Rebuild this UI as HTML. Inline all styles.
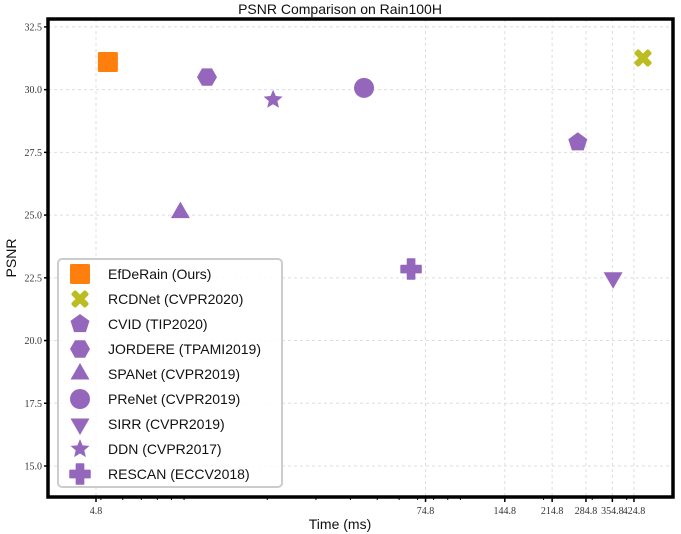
<!DOCTYPE html>
<html><head><meta charset="utf-8"><style>
body{margin:0;background:#fff;}
svg{display:block;}
.tick{font-family:"Liberation Serif",serif;font-size:10px;fill:#333;}
.lab{font-family:"Liberation Sans",sans-serif;font-size:14px;fill:#111;}
.leg{font-family:"Liberation Sans",sans-serif;font-size:14px;fill:#111;}
</style></head><body>
<svg id="chart" width="681" height="534">
<text x="340" y="14" text-anchor="middle" class="lab">PSNR Comparison on Rain100H</text>
<g id="grid"></g>
<g id="marks"></g>
<rect x="48" y="19" width="625" height="478" fill="none" stroke="#000" stroke-width="3.5"/>
<g id="axes"></g>
<text x="340" y="529" text-anchor="middle" class="lab">Time (ms)</text>
<text x="16" y="258" text-anchor="middle" class="lab" transform="rotate(-90 16 258)">PSNR</text>
<g id="legend"></g>
</svg>
<script>
const methods=["EfDeRain (Ours)","RCDNet (CVPR2020)","CVID (TIP2020)","JORDERE (TPAMI2019)","SPANet (CVPR2019)","PReNet (CVPR2019)","SIRR (CVPR2019)","DDN (CVPR2017)","RESCAN (ECCV2018)"];
const times=[5.3,458,266,12.1,9.7,44.8,357,21,66.3];
const psnr=[31.1,31.26,27.9,30.5,25.1,30.07,22.5,29.6,22.85];
const shapes=["square","x","pentagon","hexagon","triangle","circle","tridown","star","plus"];
const colors=["#ff7f0e","#bcbd22","#9467bd","#9467bd","#9467bd","#9467bd","#9467bd","#9467bd","#9467bd"];
const xTicks=[4.8,74.8,144.8,214.8,284.8,354.8,424.8];
const yTicks=[15.0,17.5,20.0,22.5,25.0,27.5,30.0,32.5];
const NS="http://www.w3.org/2000/svg";
function X(v){return 96+120*(Math.log(v)-Math.log(4.8));}
function Y(v){return 466-25.09*(v-15);}
function mk(tag,a,p){const e=document.createElementNS(NS,tag);for(const k in a)e.setAttribute(k,a[k]);p.appendChild(e);return e;}
const grid=document.getElementById('grid'),axes=document.getElementById('axes'),marks=document.getElementById('marks'),legend=document.getElementById('legend');
yTicks.forEach(t=>{
 const l=mk('line',{x1:48,x2:673,y1:Y(t),y2:Y(t),stroke:'#ddd','stroke-dasharray':'3,3'},grid);
 
 
 mk('line',{x1:44,x2:48,y1:Y(t),y2:Y(t),stroke:'#000','stroke-width':1.5},axes);
 const tx=mk('text',{x:42,y:Y(t)+3.5,'text-anchor':'end',class:'tick'},axes);tx.textContent=t.toFixed(1);
 
 
});
xTicks.forEach(t=>{
 const l=mk('line',{x1:X(t),x2:X(t),y1:19,y2:497,stroke:'#ddd','stroke-dasharray':'3,3'},grid);
 
 
 mk('line',{x1:X(t),x2:X(t),y1:497,y2:502,stroke:'#000','stroke-width':1.5},axes);
 const tx=mk('text',{x:X(t),y:514,'text-anchor':'middle',class:'tick'},axes);tx.textContent=t;
 
 
});
[5,6,7,8,9,10,20,30,40,50,60,70,80,90,100,200,300,400].forEach(t=>{
 if(X(t)>48&&X(t)<673)mk('line',{x1:X(t),x2:X(t),y1:497,y2:500,stroke:'#000','stroke-width':1},axes);
});
function shape(kind,cx,cy,s,col,p){
 let e;const r=s/2;
 const poly=(n,rot,rr)=>{let pts=[];for(let i=0;i<n;i++){const a=rot+i*2*Math.PI/n;pts.push((cx+rr*Math.cos(a)).toFixed(1)+','+(cy+rr*Math.sin(a)).toFixed(1));}return mk('polygon',{points:pts.join(' '),fill:col},p);};
 if(kind==='square')e=mk('rect',{x:cx-r,y:cy-r,width:s,height:s,fill:col,rx:1.5},p);
 else if(kind==='circle')e=mk('circle',{cx:cx,cy:cy,r:r,fill:col},p);
 else if(kind==='pentagon')e=poly(5,-Math.PI/2,r);
 else if(kind==='hexagon')e=poly(6,0,r);
 else if(kind==='triangle')e=poly(3,-Math.PI/2,r*1.1);
 else if(kind==='tridown')e=poly(3,Math.PI/2,r*1.1);
 else if(kind==='star'){let pts=[];for(let i=0;i<10;i++){const a=-Math.PI/2+i*Math.PI/5,rr=i%2?r*0.45:r;pts.push((cx+rr*Math.cos(a)).toFixed(1)+','+(cy+rr*Math.sin(a)).toFixed(1));}e=mk('polygon',{points:pts.join(' '),fill:col},p);}
 else if(kind==='plus'){const w=s*0.36;e=mk('path',{d:`M${cx-w/2},${cy-r}h${w}v${r-w/2}h${r-w/2}v${w}h${-(r-w/2)}v${r-w/2}h${-w}v${-(r-w/2)}h${-(r-w/2)}v${-w}h${r-w/2}z`,fill:col,'stroke-linejoin':'round',stroke:col,'stroke-width':1.5},p);}
 else if(kind==='x'){const w=s*0.32;e=mk('g',{},p);
  [45,-45].forEach(a=>mk('rect',{x:cx-r,y:cy-w/2,width:s,height:w,fill:col,rx:2,transform:`rotate(${a} ${cx} ${cy})`},e));}
 return e;
}
methods.forEach((m,i)=>{
 const e=shape(shapes[i],X(times[i]),Y(psnr[i]),20,colors[i],marks);
 
 
});
const box=mk('rect',{x:58,y:259,width:224,height:228,rx:4,fill:'rgba(255,255,255,0.85)',stroke:'#ccc','stroke-width':2},legend);


methods.forEach((m,i)=>{
 const y=274+i*25;
 const g=mk('g',{},legend);
 
 
 shape(shapes[i],80,y,20,colors[i],g);
 const t=mk('text',{x:108,y:y+5,class:'leg'},g);t.textContent=m;
});
</script>
</body></html>
